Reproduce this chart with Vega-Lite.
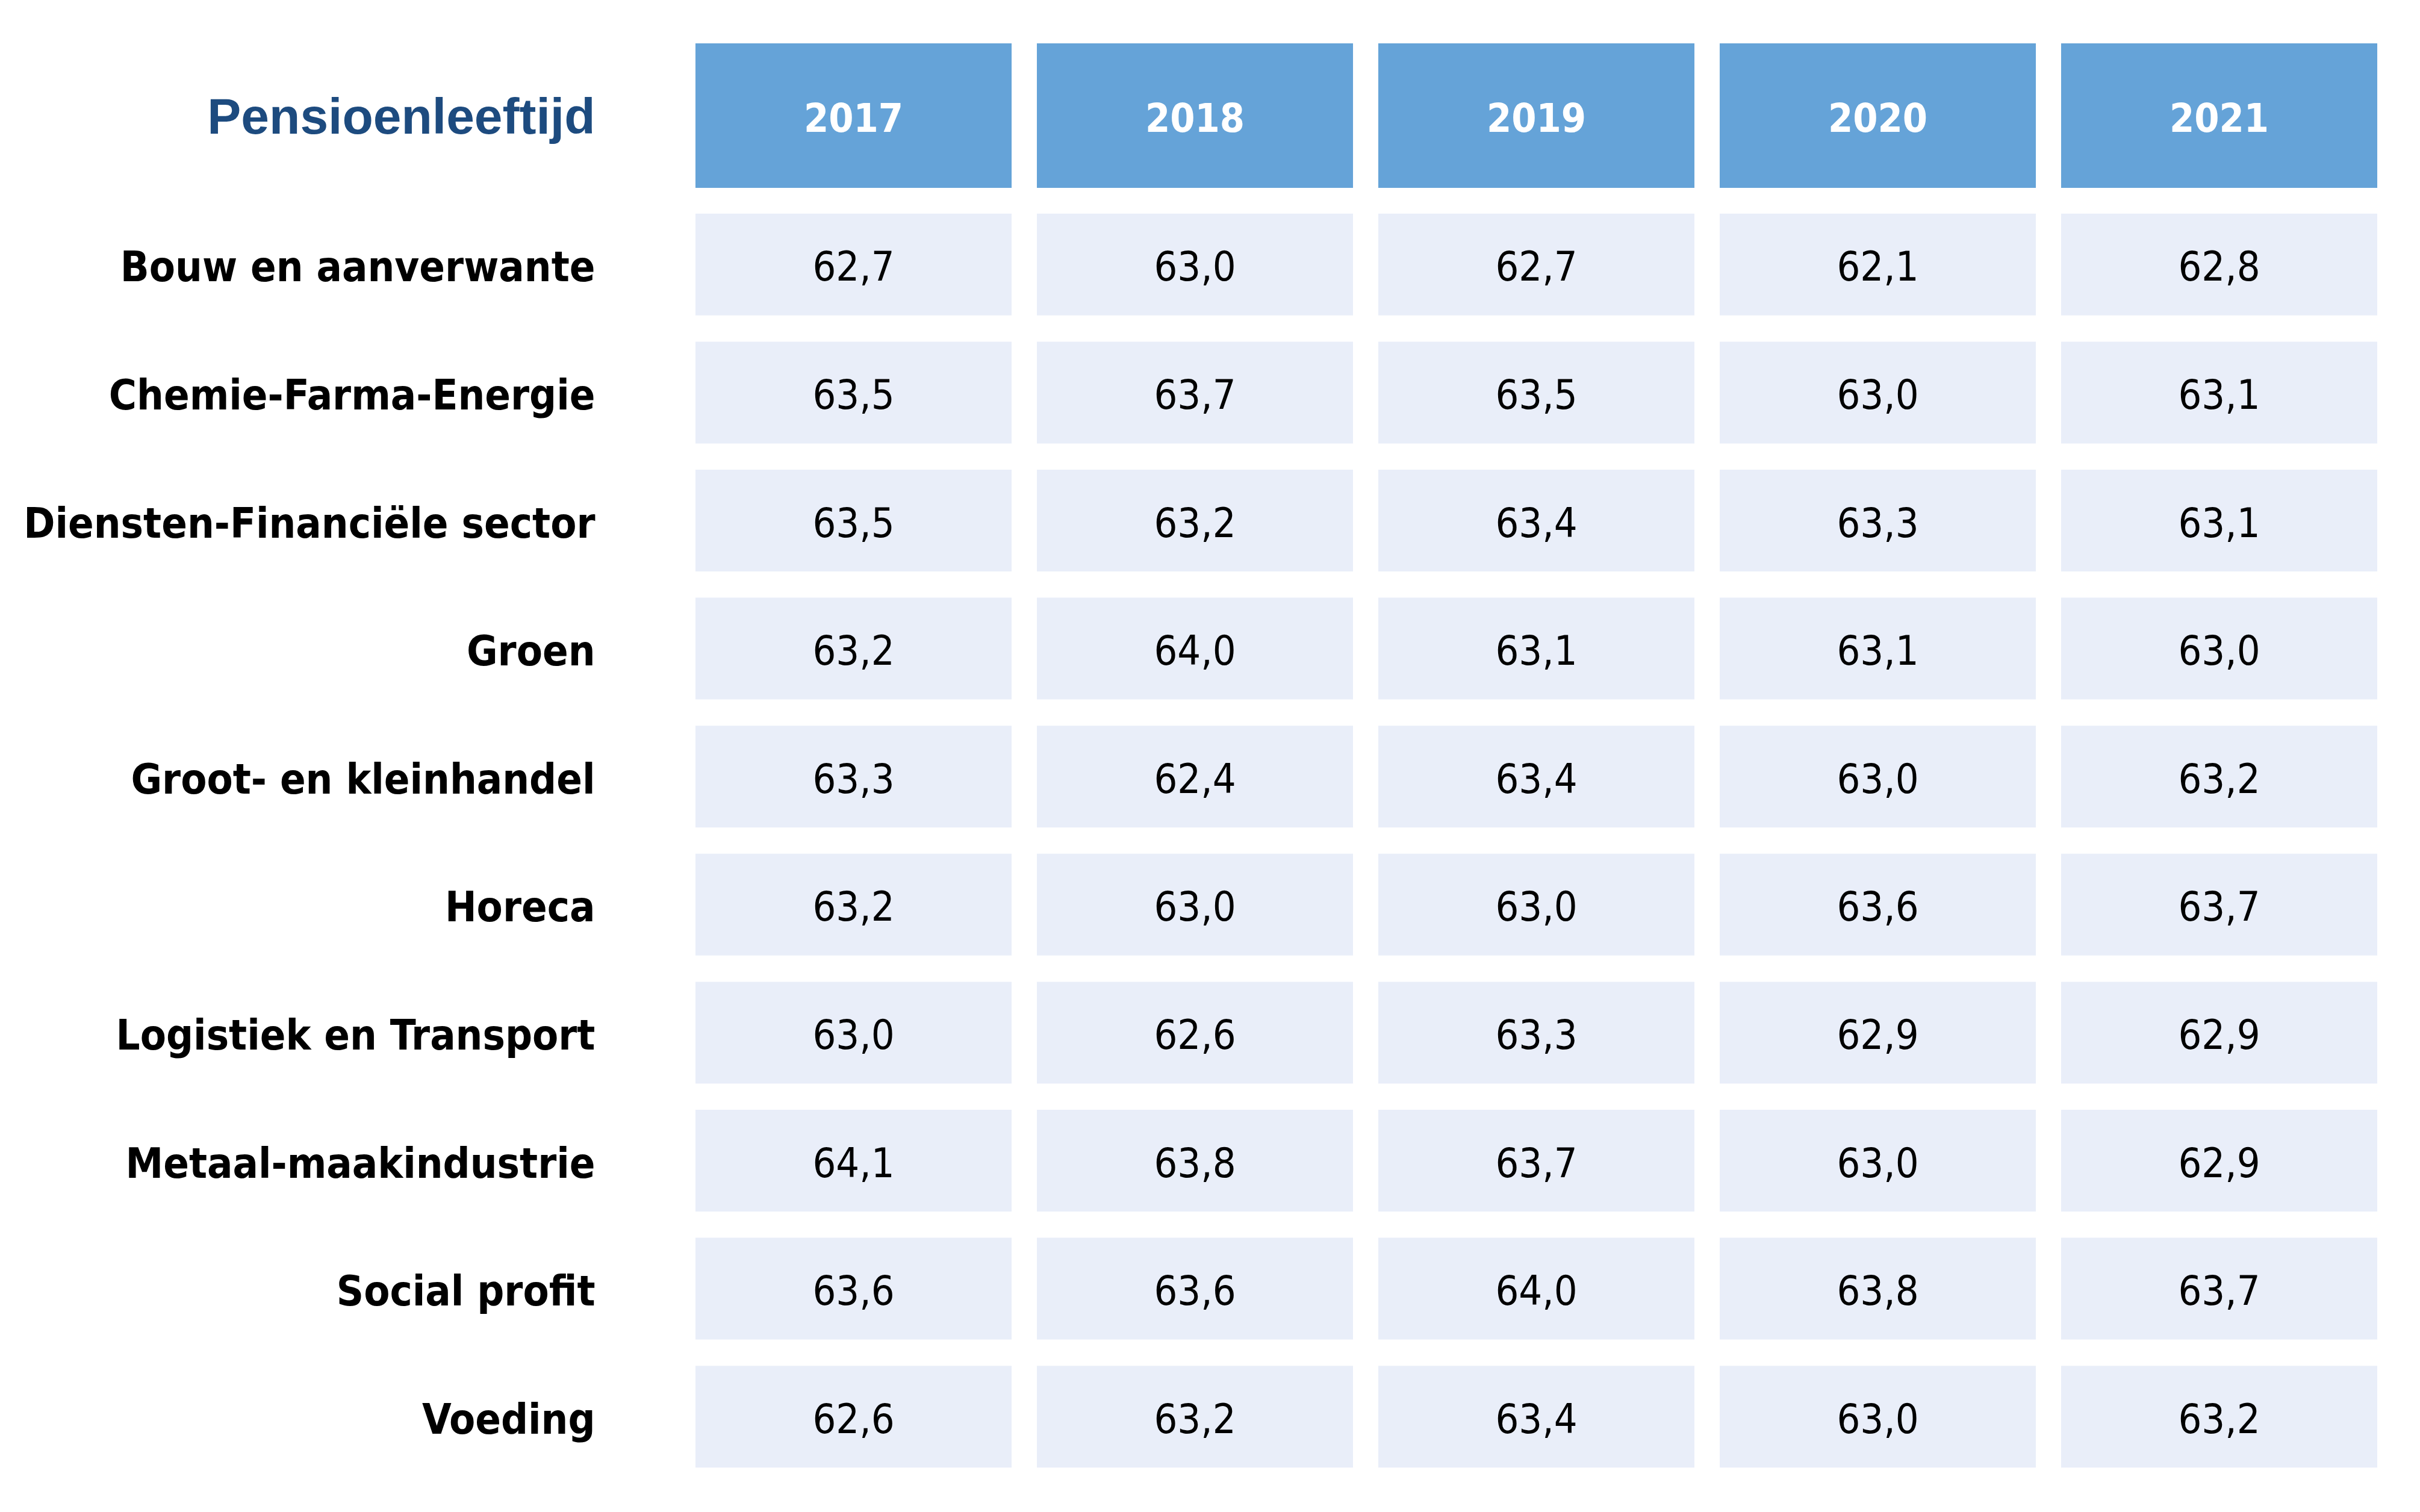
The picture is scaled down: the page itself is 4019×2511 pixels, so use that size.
{
  "$schema": "https://vega.github.io/schema/vega-lite/v6.json",
  "background": "white",
  "padding": {"left": 38, "top": 72, "right": 51, "bottom": 50},
  "config": {
    "view": {"stroke": null},
    "font": "DejaVu Sans Condensed, Liberation Sans",
    "locale": {"number": {"decimal": ",", "thousands": ".", "grouping": [3], "currency": ["€", ""]}},
    "concat": {"spacing": 21}
  },
  "spacing": 21,
  "datasets": {
    "headers": [
      {"year": "2017", "label": "Pensioenleeftijd"},
      {"year": "2018", "label": "Pensioenleeftijd"},
      {"year": "2019", "label": "Pensioenleeftijd"},
      {"year": "2020", "label": "Pensioenleeftijd"},
      {"year": "2021", "label": "Pensioenleeftijd"}
    ],
    "cells": [
      {"sector": "Bouw en aanverwante", "year": "2017", "value": 62.7},
      {"sector": "Bouw en aanverwante", "year": "2018", "value": 63.0},
      {"sector": "Bouw en aanverwante", "year": "2019", "value": 62.7},
      {"sector": "Bouw en aanverwante", "year": "2020", "value": 62.1},
      {"sector": "Bouw en aanverwante", "year": "2021", "value": 62.8},
      {"sector": "Chemie-Farma-Energie", "year": "2017", "value": 63.5},
      {"sector": "Chemie-Farma-Energie", "year": "2018", "value": 63.7},
      {"sector": "Chemie-Farma-Energie", "year": "2019", "value": 63.5},
      {"sector": "Chemie-Farma-Energie", "year": "2020", "value": 63.0},
      {"sector": "Chemie-Farma-Energie", "year": "2021", "value": 63.1},
      {"sector": "Diensten-Financiële sector", "year": "2017", "value": 63.5},
      {"sector": "Diensten-Financiële sector", "year": "2018", "value": 63.2},
      {"sector": "Diensten-Financiële sector", "year": "2019", "value": 63.4},
      {"sector": "Diensten-Financiële sector", "year": "2020", "value": 63.3},
      {"sector": "Diensten-Financiële sector", "year": "2021", "value": 63.1},
      {"sector": "Groen", "year": "2017", "value": 63.2},
      {"sector": "Groen", "year": "2018", "value": 64.0},
      {"sector": "Groen", "year": "2019", "value": 63.1},
      {"sector": "Groen", "year": "2020", "value": 63.1},
      {"sector": "Groen", "year": "2021", "value": 63.0},
      {"sector": "Groot- en kleinhandel", "year": "2017", "value": 63.3},
      {"sector": "Groot- en kleinhandel", "year": "2018", "value": 62.4},
      {"sector": "Groot- en kleinhandel", "year": "2019", "value": 63.4},
      {"sector": "Groot- en kleinhandel", "year": "2020", "value": 63.0},
      {"sector": "Groot- en kleinhandel", "year": "2021", "value": 63.2},
      {"sector": "Horeca", "year": "2017", "value": 63.2},
      {"sector": "Horeca", "year": "2018", "value": 63.0},
      {"sector": "Horeca", "year": "2019", "value": 63.0},
      {"sector": "Horeca", "year": "2020", "value": 63.6},
      {"sector": "Horeca", "year": "2021", "value": 63.7},
      {"sector": "Logistiek en Transport", "year": "2017", "value": 63.0},
      {"sector": "Logistiek en Transport", "year": "2018", "value": 62.6},
      {"sector": "Logistiek en Transport", "year": "2019", "value": 63.3},
      {"sector": "Logistiek en Transport", "year": "2020", "value": 62.9},
      {"sector": "Logistiek en Transport", "year": "2021", "value": 62.9},
      {"sector": "Metaal-maakindustrie", "year": "2017", "value": 64.1},
      {"sector": "Metaal-maakindustrie", "year": "2018", "value": 63.8},
      {"sector": "Metaal-maakindustrie", "year": "2019", "value": 63.7},
      {"sector": "Metaal-maakindustrie", "year": "2020", "value": 63.0},
      {"sector": "Metaal-maakindustrie", "year": "2021", "value": 62.9},
      {"sector": "Social profit", "year": "2017", "value": 63.6},
      {"sector": "Social profit", "year": "2018", "value": 63.6},
      {"sector": "Social profit", "year": "2019", "value": 64.0},
      {"sector": "Social profit", "year": "2020", "value": 63.8},
      {"sector": "Social profit", "year": "2021", "value": 63.7},
      {"sector": "Voeding", "year": "2017", "value": 62.6},
      {"sector": "Voeding", "year": "2018", "value": 63.2},
      {"sector": "Voeding", "year": "2019", "value": 63.4},
      {"sector": "Voeding", "year": "2020", "value": 63.0},
      {"sector": "Voeding", "year": "2021", "value": 63.2}
    ]
  },
  "vconcat": [
    {
      "width": 2835,
      "height": 240,
      "data": {"name": "headers"},
      "encoding": {
        "x": {"field": "year", "type": "ordinal", "scale": {"paddingInner": 0.074, "paddingOuter": 0.037}, "axis": null},
        "y": {"field": "label", "type": "nominal", "scale": {"paddingInner": 0, "paddingOuter": 0},
          "axis": {"title": null, "domain": false, "ticks": false, "grid": false, "labelPadding": 146, "labelOffset": 5,
            "labelFont": "Liberation Sans", "labelFontWeight": "bold", "labelFontSize": 84, "labelColor": "#1d4b7f", "labelLimit": 2000}}
      },
      "layer": [
        {"mark": {"type": "rect", "color": "#65a3d8"}},
        {"mark": {"type": "text", "font": "DejaVu Sans Condensed, Liberation Sans", "fontWeight": "bold", "fontSize": 66, "color": "white", "baseline": "middle", "dy": 7},
          "encoding": {"text": {"field": "year"}}}
      ]
    },
    {
      "width": 2835,
      "height": 2126,
      "data": {"name": "cells"},
      "encoding": {
        "x": {"field": "year", "type": "ordinal", "scale": {"paddingInner": 0.074, "paddingOuter": 0.037}, "axis": null},
        "y": {"field": "sector", "type": "nominal",
          "sort": ["Bouw en aanverwante", "Chemie-Farma-Energie", "Diensten-Financiële sector", "Groen", "Groot- en kleinhandel", "Horeca", "Logistiek en Transport", "Metaal-maakindustrie", "Social profit", "Voeding"],
          "scale": {"paddingInner": 0.205, "paddingOuter": 0.1025},
          "axis": {"title": null, "domain": false, "ticks": false, "grid": false, "labelPadding": 146, "labelOffset": 7,
            "labelFont": "DejaVu Sans Condensed, Liberation Sans", "labelFontWeight": "bold", "labelFontSize": 70, "labelColor": "black", "labelLimit": 2000}}
      },
      "layer": [
        {"mark": {"type": "rect", "color": "#e9eef9"}},
        {"mark": {"type": "text", "font": "DejaVu Sans Condensed, Liberation Sans", "fontSize": 68, "color": "black", "baseline": "middle", "dy": 7},
          "encoding": {"text": {"field": "value", "type": "quantitative", "format": ".1f"}}}
      ]
    }
  ]
}
